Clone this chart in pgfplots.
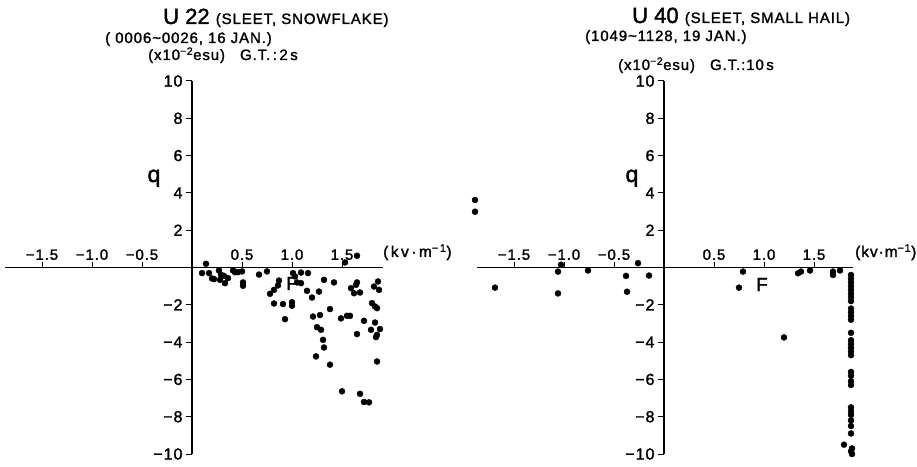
\documentclass[border=0pt]{standalone}
\usepackage{pgfplots}
\pgfplotsset{compat=1.18}
\usepackage{fontspec}
\setmainfont[FakeBold=1.6]{Liberation Sans}
\newfontfamily\ls[LetterSpace=6,FakeBold=1.6]{Liberation Sans}
\newfontfamily\lsw[LetterSpace=16,FakeBold=1.6]{Liberation Sans}
\begin{document}
\begin{tikzpicture}[x=1pt,y=1pt]
\path[use as bounding box] (0,0) rectangle (917,466);
\pgfplotsset{
 myax/.style={
  scale only axis, height=373pt, ymin=-10, ymax=10,
  axis lines=middle,
  axis line style={-, line width=1.3pt},
  every inner x axis line/.append style={-},
  every inner y axis line/.append style={-},
  xtick={-1.5,-1,-0.5,0.5,1,1.5},
  xticklabels={−1.5,−1.0,−0.5,0.5,1.0,1.5},
  ytick={-10,-8,-6,-4,-2,2,4,6,8,10},
  yticklabels={−10,−8,−6,−4,−2,2,4,6,8,10},
  xticklabel style={anchor=south, yshift=4pt, font=\ls\fontsize{15}{15}\selectfont},
  yticklabel style={font=\ls\fontsize{16}{16}\selectfont},
  xtick align=inside, ytick align=outside, major tick length=6pt,
  tick style={line width=1pt, black},
  clip=false,
 },
 dots/.style={only marks, mark=*, mark size=3pt, black},
}
% ---------------- left panel ----------------
\begin{axis}[myax, at={(5pt,12pt)}, anchor=south west, width=378pt, xmin=-1.87, xmax=1.91]
\addplot[dots] coordinates {
(0.14,0.20) (0.10,-0.30) (0.17,-0.30) (0.20,-0.59) (0.22,-0.62)
(0.27,-0.16) (0.29,-0.39) (0.32,-0.45) (0.33,-0.84) (0.28,-0.66)
(0.36,-0.57) (0.41,-0.16) (0.43,-0.25) (0.46,-0.25) (0.50,-0.21)
(0.51,-0.80) (0.51,-0.98) (0.67,-0.38) (0.75,-0.21) (0.78,-1.41)
(0.82,-1.20) (0.86,-0.96) (0.87,-0.70) (0.82,-1.93) (0.91,-1.96)
(0.93,-2.77) (1.00,-1.86) (1.00,-2.05) (1.01,-0.30) (1.03,-0.48)
(1.05,-0.80) (1.09,-0.27) (1.09,-0.84) (1.16,-0.30) (1.15,-1.25)
(1.20,-1.61) (1.21,-2.63) (1.25,-3.20) (1.29,-3.34) (1.28,-2.55)
(1.27,-1.29) (1.32,-0.66) (1.38,-2.23) (1.31,-3.88) (1.32,-4.29)
(1.24,-4.77) (1.38,-5.21) (1.42,-0.80) (1.49,-2.73) (1.55,-2.59)
(1.58,-2.59) (1.53,0.27) (1.65,0.63) (1.59,-1.11) (1.62,-1.38)
(1.64,-0.93) (1.65,-0.80) (1.68,-1.34) (1.65,-3.57) (1.72,-2.86)
(1.50,-6.64) (1.68,-6.77) (1.72,-7.21) (1.77,-7.23) (1.80,-1.91)
(1.83,-2.09) (1.85,-2.18) (1.82,-1.02) (1.86,-0.75) (1.87,-1.20)
(1.83,-2.95) (1.79,-3.34) (1.88,-3.30) (1.85,-3.61) (1.84,-3.73)
(1.85,-5.04)
};
\end{axis}
% ---------------- right panel ----------------
\begin{axis}[myax, at={(477pt,12pt)}, anchor=south west, width=376pt, xmin=-1.87, xmax=1.89]
\addplot[dots] coordinates {
(-1.89,3.62) (-1.89,2.99) (-1.69,-1.08) (-1.06,-0.22) (-1.03,0.15)
(-1.06,-1.39) (-0.76,-0.16) (-0.38,-0.45) (-0.37,-1.30) (-0.26,0.23)
(-0.15,-0.43) (0.75,-1.08) (0.79,-0.22) (1.20,-3.75) (1.34,-0.31)
(1.37,-0.22) (1.46,-0.16) (1.69,-0.40) (1.69,-0.22) (1.76,-0.16)
(1.87,-0.40) (1.87,-0.60) (1.87,-0.80) (1.87,-1.00) (1.87,-1.20)
(1.87,-1.40) (1.87,-1.60) (1.87,-1.80) (1.87,-2.20) (1.87,-2.40)
(1.87,-2.60) (1.87,-2.80) (1.87,-3.50) (1.87,-3.90) (1.87,-4.10)
(1.87,-4.30) (1.87,-4.50) (1.87,-4.70) (1.87,-5.60) (1.87,-5.80)
(1.87,-6.10) (1.87,-6.30) (1.87,-7.50) (1.87,-7.70) (1.87,-7.90)
(1.87,-8.20) (1.87,-8.50) (1.87,-8.90) (1.80,-9.50) (1.88,-9.70)
(1.87,-9.85) (1.88,-10.00)
};
\end{axis}
% ---------------- texts ----------------
\node[anchor=base west, inner sep=0] at (163,442) {\fontsize{22}{22}\selectfont U 22 \ls\fontsize{15}{15}\selectfont(SLEET, SNOWFLAKE)};
\node[anchor=base west, inner sep=0] at (105,423) {\ls\fontsize{15}{15}\selectfont( 0006\textasciitilde0026, 16 JAN.)};
\node[anchor=base west, inner sep=0] at (148,406) {\ls\fontsize{15}{15}\selectfont(x10\textsuperscript{−2}esu)\quad G.T.\,:\,2\,s};
\node[anchor=base, inner sep=0] at (154,284) {\fontsize{23}{23}\selectfont q};
\node[anchor=base west, inner sep=0] at (383,209) {\lsw\fontsize{15.5}{15.5}\selectfont(kv·m\textsuperscript{−1})};
\node[anchor=base, inner sep=0] at (292,176) {\fontsize{19}{19}\selectfont F};
%
\node[anchor=base west, inner sep=0] at (632,443) {\fontsize{22}{22}\selectfont U 40 \ls\fontsize{15}{15}\selectfont(SLEET, SMALL HAIL)};
\node[anchor=base west, inner sep=0] at (585,425) {\ls\fontsize{15}{15}\selectfont(1049\textasciitilde1128, 19 JAN.)};
\node[anchor=base west, inner sep=0] at (618,396) {\ls\fontsize{15}{15}\selectfont(x10\textsuperscript{−2}esu)\quad G.T.:10\,s};
\node[anchor=base, inner sep=0] at (632,284) {\fontsize{23}{23}\selectfont q};
\node[anchor=base west, inner sep=0] at (855,209) {\ls\fontsize{15.5}{15.5}\selectfont(kv·m\textsuperscript{−1})};
\node[anchor=base, inner sep=0] at (762,175) {\fontsize{19}{19}\selectfont F};
\end{tikzpicture}
\end{document}
